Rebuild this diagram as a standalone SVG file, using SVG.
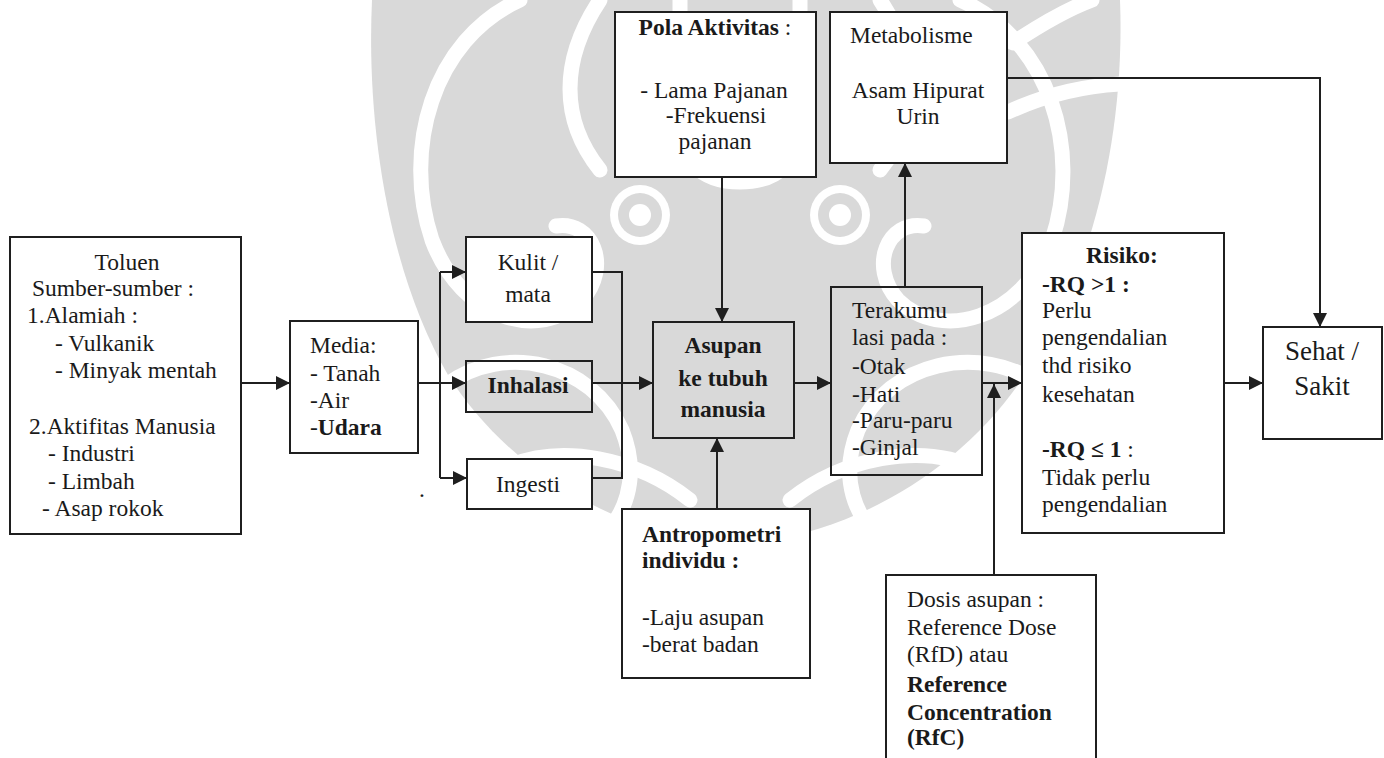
<svg xmlns="http://www.w3.org/2000/svg" width="1384" height="758" viewBox="0 0 1384 758">
  <style>
    .box { fill: #ffffff; stroke: #1f1f1f; stroke-width: 2; }
    .open { fill: none; stroke: #1f1f1f; stroke-width: 2; }
    .wire { fill: none; stroke: #1f1f1f; stroke-width: 2; }
    .arrow { fill: none; stroke: #1f1f1f; stroke-width: 2; marker-end: url(#head); }
    text { font-family: "Liberation Serif", "Times New Roman", serif; font-size: 23.5px; fill: #1a1a1a; }
    .b { font-weight: bold; }
    .c { text-anchor: middle; }
    .big { font-size: 27px; }
    .wm { fill: #d9d9d9; }
    .wm-cut { fill: none; stroke: #ffffff; stroke-width: 15; stroke-linecap: round; }
  </style>
  <defs>
    <marker id="head" viewBox="0 0 10 10" refX="10" refY="5" markerUnits="userSpaceOnUse" markerWidth="15" markerHeight="14" orient="auto">
      <path d="M0,0 L10,5 L0,10 z" fill="#1f1f1f"/>
    </marker>
  </defs>

  <rect width="1384" height="758" fill="#ffffff"/>

  <!-- faint emblem in the background -->
  <g id="emblem">
    <path class="wm" d="M372 0 L1120 0 C1125 130 1095 270 1025 375 C965 465 860 535 735 545 C610 535 505 465 448 375 C390 275 366 130 372 0 Z"/>
    <path class="wm-cut" d="M520 0 C432 40 402 150 432 240 C462 320 540 342 582 300 C612 266 592 220 556 226"/>
    <path class="wm-cut" d="M960 0 C1050 40 1082 150 1052 240 C1022 320 940 342 898 300 C868 266 888 220 924 226"/>
    <path class="wm-cut" d="M446 385 C504 342 592 362 622 430 C642 480 622 520 602 534"/>
    <path class="wm-cut" d="M1040 385 C980 342 888 362 858 430 C838 480 858 520 878 534"/>
    <path class="wm-cut" d="M600 0 C560 60 560 120 600 170"/>
    <path class="wm-cut" d="M880 0 C920 60 920 120 880 170"/>
    <path class="wm-cut" d="M500 470 C560 440 640 460 690 500"/>
    <path class="wm-cut" d="M980 470 C920 440 840 460 790 500"/>
    <path class="wm-cut" d="M1013 43 C1040 25 1065 10 1092 0"/>
    <path class="wm-cut" d="M1008 112 C1045 95 1085 86 1120 84"/>
    <path class="wm-cut" d="M680 0 L680 120 C680 160 700 182 740 182 C780 182 800 160 800 120 L800 0"/>
    <circle cx="640" cy="215" r="30" fill="#ffffff"/>
    <circle cx="640" cy="215" r="22" class="wm"/>
    <circle cx="640" cy="215" r="11" fill="#ffffff"/>
    <circle cx="840" cy="215" r="30" fill="#ffffff"/>
    <circle cx="840" cy="215" r="22" class="wm"/>
    <circle cx="840" cy="215" r="11" fill="#ffffff"/>
  </g>

  <!-- connectors -->
  <g id="connectors">
    <path class="arrow" d="M241 383 H290"/>
    <path class="wire" d="M418 383 H440 M440 272 V478"/>
    <path class="arrow" d="M440 272 H466"/>
    <path class="arrow" d="M440 383 H466"/>
    <path class="arrow" d="M440 478 H467"/>
    <path class="wire" d="M592 272 H622 V478 H592"/>
    <path class="arrow" d="M592 383 H653"/>
    <path class="arrow" d="M722 177 V322"/>
    <path class="arrow" d="M717 509 V438"/>
    <path class="arrow" d="M794 383 H831"/>
    <path class="arrow" d="M905 287 V163"/>
    <path class="arrow" d="M982 383 H1022"/>
    <path class="arrow" d="M994 575 V384"/>
    <path class="arrow" d="M1224 383 H1263"/>
    <path class="arrow" d="M1007 78 H1320 V327"/>
  </g>

  <g id="toluen">
    <rect class="box" x="10" y="237" width="231" height="297"/>
    <text class="c" x="127" y="270">Toluen</text>
    <text x="32" y="296">Sumber-sumber :</text>
    <text x="27" y="323">1.Alamiah :</text>
    <text x="55" y="351">- Vulkanik</text>
    <text x="55" y="378">- Minyak mentah</text>
    <text x="29" y="434">2.Aktifitas Manusia</text>
    <text x="48" y="461">- Industri</text>
    <text x="48" y="489">- Limbah</text>
    <text x="42" y="516">- Asap rokok</text>
  </g>

  <g id="media">
    <rect class="box" x="290" y="321" width="128" height="132"/>
    <text x="310" y="353">Media:</text>
    <text x="310" y="381">- Tanah</text>
    <text x="310" y="408">-Air</text>
    <text x="310" y="435">-<tspan class="b">Udara</tspan></text>
  </g>

  <g id="stray-mark">
    <text x="419" y="497">.</text>
  </g>

  <g id="kulit">
    <rect class="box" x="466" y="237" width="126" height="85"/>
    <text class="c" x="528" y="270">Kulit /</text>
    <text class="c" x="528" y="302">mata</text>
  </g>

  <g id="inhalasi">
    <rect class="open" x="466" y="361" width="126" height="51"/>
    <text class="c b" x="528" y="393">Inhalasi</text>
  </g>

  <g id="ingesti">
    <rect class="box" x="467" y="459" width="125" height="50"/>
    <text class="c" x="528" y="492">Ingesti</text>
  </g>

  <g id="pola-aktivitas">
    <rect class="box" x="615" y="12" width="201" height="165"/>
    <text class="c" x="715" y="35"><tspan class="b">Pola Aktivitas</tspan> :</text>
    <text class="c" x="714" y="98">- Lama Pajanan</text>
    <text class="c" x="716" y="123">-Frekuensi</text>
    <text class="c" x="715" y="149">pajanan</text>
  </g>

  <g id="metabolisme">
    <rect class="box" x="830" y="12" width="177" height="151"/>
    <text x="850" y="43">Metabolisme</text>
    <text class="c" x="918" y="98">Asam Hipurat</text>
    <text class="c" x="918" y="124">Urin</text>
  </g>

  <g id="asupan">
    <rect class="open" x="653" y="322" width="141" height="116"/>
    <text class="c b" x="723" y="353">Asupan</text>
    <text class="c b" x="723" y="386">ke tubuh</text>
    <text class="c b" x="723" y="417">manusia</text>
  </g>

  <g id="antropometri">
    <rect class="box" x="622" y="509" width="188" height="169"/>
    <text class="b" x="642" y="542">Antropometri</text>
    <text class="b" x="642" y="568">individu :</text>
    <text x="642" y="625">-Laju asupan</text>
    <text x="642" y="652">-berat badan</text>
  </g>

  <g id="terakumulasi">
    <rect class="open" x="831" y="287" width="151" height="188"/>
    <text x="852" y="318">Terakumu</text>
    <text x="852" y="345">lasi pada :</text>
    <text x="852" y="374">-Otak</text>
    <text x="852" y="402">-Hati</text>
    <text x="852" y="428">-Paru-paru</text>
    <text x="852" y="455">-Ginjal</text>
  </g>

  <g id="dosis">
    <rect class="box" x="886" y="575" width="210" height="200"/>
    <text x="907" y="607">Dosis asupan :</text>
    <text x="907" y="635">Reference Dose</text>
    <text x="907" y="662">(RfD) atau</text>
    <text class="b" x="907" y="692">Reference</text>
    <text class="b" x="907" y="720">Concentration</text>
    <text class="b" x="907" y="745">(RfC)</text>
  </g>

  <g id="risiko">
    <rect class="box" x="1022" y="233" width="202" height="300"/>
    <text class="c b" x="1122" y="263">Risiko:</text>
    <text class="b" x="1042" y="292">-RQ &gt;1 :</text>
    <text x="1042" y="318">Perlu</text>
    <text x="1042" y="345">pengendalian</text>
    <text x="1042" y="373">thd risiko</text>
    <text x="1042" y="402">kesehatan</text>
    <text x="1042" y="457"><tspan class="b">-RQ ≤ 1</tspan> :</text>
    <text x="1042" y="485">Tidak perlu</text>
    <text x="1042" y="512">pengendalian</text>
  </g>

  <g id="sehat-sakit">
    <rect class="box" x="1263" y="327" width="119" height="112"/>
    <text class="c big" x="1322" y="360">Sehat /</text>
    <text class="c big" x="1322" y="395">Sakit</text>
  </g>
</svg>
